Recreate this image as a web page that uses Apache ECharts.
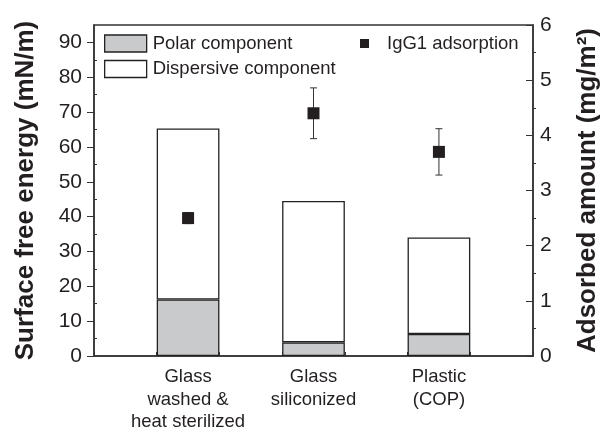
<!DOCTYPE html>
<html>
<head>
<meta charset="utf-8">
<script src="https://cdn.jsdelivr.net/npm/echarts@6/dist/echarts.min.js"></script>
<style>
  html, body { margin: 0; padding: 0; background: #fff; }
  #chart { width: 603px; height: 430px; }
</style>
</head>
<body>
<div id="chart"></div>
<script>
// Surface free energy components (left axis) and IgG1 adsorption (right axis)
const categories = ['Glass\nwashed &\nheat sterilized', 'Glass\nsiliconized', 'Plastic\n(COP)'];
const polarComponent = [16.2, 3.9, 6.3];          // mN/m
const dispersiveComponent = [49.1, 40.6, 27.7];   // mN/m
const igg1Adsorption = [2.5, 4.4, 3.7];           // mg/m2
const igg1Error = [0.1, 0.46, 0.42];              // mg/m2
const leftTicks = [0, 10, 20, 30, 40, 50, 60, 70, 80, 90];
const leftMinorTicks = [5, 15, 25, 35, 45, 55, 65, 75, 85];
const rightTicks = [0, 1, 2, 3, 4, 5, 6];
const rightMinorTicks = [0.5, 1.5, 2.5, 3.5, 4.5, 5.5];

// Each sample sits in the middle of a pair of half-width slots
const slotCount = categories.length * 2 + 1;
const slotOf = i => 2 * i + 1;
const slotLabels = Array.from({ length: slotCount }, (_, s) =>
  s % 2 === 1 ? categories[(s - 1) / 2] : '');
const spread = arr => Array.from({ length: slotCount }, (_, s) =>
  s % 2 === 1 ? arr[(s - 1) / 2] : '-');

const FONT = "'Liberation Sans', Arial, Helvetica, sans-serif";
const INK = '#231f20';

const chart = echarts.init(document.getElementById('chart'), null, { renderer: 'canvas' });

chart.setOption({
  animation: false,
  backgroundColor: '#fff',
  textStyle: { fontFamily: FONT, color: INK },
  grid: {
    left: 94, right: 70, top: 25, bottom: 74,
    outerBoundsMode: 'none', containLabel: false,
    show: true, borderColor: '#333', borderWidth: 1.5, backgroundColor: 'transparent'
  },
  legend: [
    {
      data: [
        { name: 'Polar component', icon: 'rect' },
        { name: 'Dispersive component', icon: 'rect' }
      ],
      orient: 'vertical',
      left: 104, top: 34, padding: 0,
      itemWidth: 42, itemHeight: 17, itemGap: 6.5,
      textStyle: { fontSize: 18.5, color: INK, fontFamily: FONT, lineHeight: 17, padding: [0, 0, 0, 1] },
      itemStyle: { borderColor: '#222', borderWidth: 1.3 }
    },
    {
      data: [{ name: 'IgG1 adsorption', icon: 'rect' }],
      left: 360, top: 34, padding: 0,
      itemWidth: 9, itemHeight: 9,
      textStyle: { fontSize: 18.5, color: INK, fontFamily: FONT, lineHeight: 17, padding: [0, 0, 0, 13] }
    }
  ],
  xAxis: {
    type: 'category',
    data: slotLabels,
    boundaryGap: true,
    axisLine: { lineStyle: { color: '#333', width: 1.5 } },
    axisTick: { show: true, inside: true, length: 4, interval: 0, lineStyle: { color: '#333', width: 1 } },
    axisLabel: { interval: 0, margin: 10, fontSize: 18.5, lineHeight: 22.5, color: INK, fontFamily: FONT },
    splitLine: { show: false }
  },
  yAxis: [
    {
      type: 'value', position: 'left', min: 0, max: 95,
      name: 'Surface free energy (mN/m)',
      nameLocation: 'middle', nameRotate: 90, nameGap: 55,
      nameTextStyle: { fontSize: 26, fontWeight: 'bold', color: INK, fontFamily: FONT },
      axisLine: { show: true, lineStyle: { color: '#333', width: 1.5 } },
      axisTick: { show: true, length: 7, customValues: leftTicks, lineStyle: { color: '#333', width: 1 } },
      axisLabel: { customValues: leftTicks, margin: 12, fontSize: 21, color: INK, fontFamily: FONT },
      splitLine: { show: false }
    },
    {
      type: 'value', position: 'right', min: 0, max: 6,
      name: 'Adsorbed amount (mg/m²)',
      nameLocation: 'middle', nameRotate: 90, nameGap: 42,
      nameTextStyle: { fontSize: 26, fontWeight: 'bold', color: INK, fontFamily: FONT },
      axisLine: { show: true, lineStyle: { color: '#333', width: 1.5 } },
      axisTick: { show: true, inside: true, length: 7, customValues: rightTicks, lineStyle: { color: '#333', width: 1 } },
      axisLabel: { customValues: rightTicks, margin: 7, fontSize: 21, color: INK, fontFamily: FONT },
      splitLine: { show: false }
    },
    {
      // minor ticks on the left side point into the plot
      type: 'value', position: 'left', min: 0, max: 95,
      axisLine: { show: false },
      axisTick: { show: true, inside: true, length: 3, customValues: leftMinorTicks, lineStyle: { color: '#333', width: 1 } },
      axisLabel: { show: false },
      splitLine: { show: false }
    },
    {
      // minor ticks on the right side point outward
      type: 'value', position: 'right', min: 0, max: 6,
      axisLine: { show: false },
      axisTick: { show: true, inside: false, length: 3, customValues: rightMinorTicks, lineStyle: { color: '#333', width: 1 } },
      axisLabel: { show: false },
      splitLine: { show: false }
    }
  ],
  series: [
    {
      name: 'Polar component',
      type: 'bar', stack: 'sfe', yAxisIndex: 0,
      barWidth: '100%',
      data: spread(polarComponent),
      itemStyle: { color: '#c9cacb', borderColor: '#222', borderWidth: 1.3 }
    },
    {
      name: 'Dispersive component',
      type: 'bar', stack: 'sfe', yAxisIndex: 0,
      barWidth: '100%',
      data: spread(dispersiveComponent),
      itemStyle: { color: '#ffffff', borderColor: '#222', borderWidth: 1.3 }
    },
    {
      name: 'IgG1 error',
      type: 'custom', yAxisIndex: 1, z: 5,
      data: igg1Adsorption.map((v, i) => [slotOf(i), v - igg1Error[i], v + igg1Error[i]]),
      renderItem: function (params, api) {
        const lo = api.coord([api.value(0), api.value(1)]);
        const hi = api.coord([api.value(0), api.value(2)]);
        const cap = 3.5;
        const style = { stroke: '#333', lineWidth: 1 };
        return {
          type: 'group',
          children: [
            { type: 'line', shape: { x1: lo[0], y1: lo[1], x2: hi[0], y2: hi[1] }, style },
            { type: 'line', shape: { x1: hi[0] - cap, y1: hi[1], x2: hi[0] + cap, y2: hi[1] }, style },
            { type: 'line', shape: { x1: lo[0] - cap, y1: lo[1], x2: lo[0] + cap, y2: lo[1] }, style }
          ]
        };
      }
    },
    {
      name: 'IgG1 adsorption',
      type: 'scatter', yAxisIndex: 1, z: 6,
      symbol: 'rect', symbolSize: 12,
      data: igg1Adsorption.map((v, i) => [slotOf(i), v]),
      itemStyle: { color: INK, opacity: 1 }
    }
  ]
});
</script>
</body>
</html>
